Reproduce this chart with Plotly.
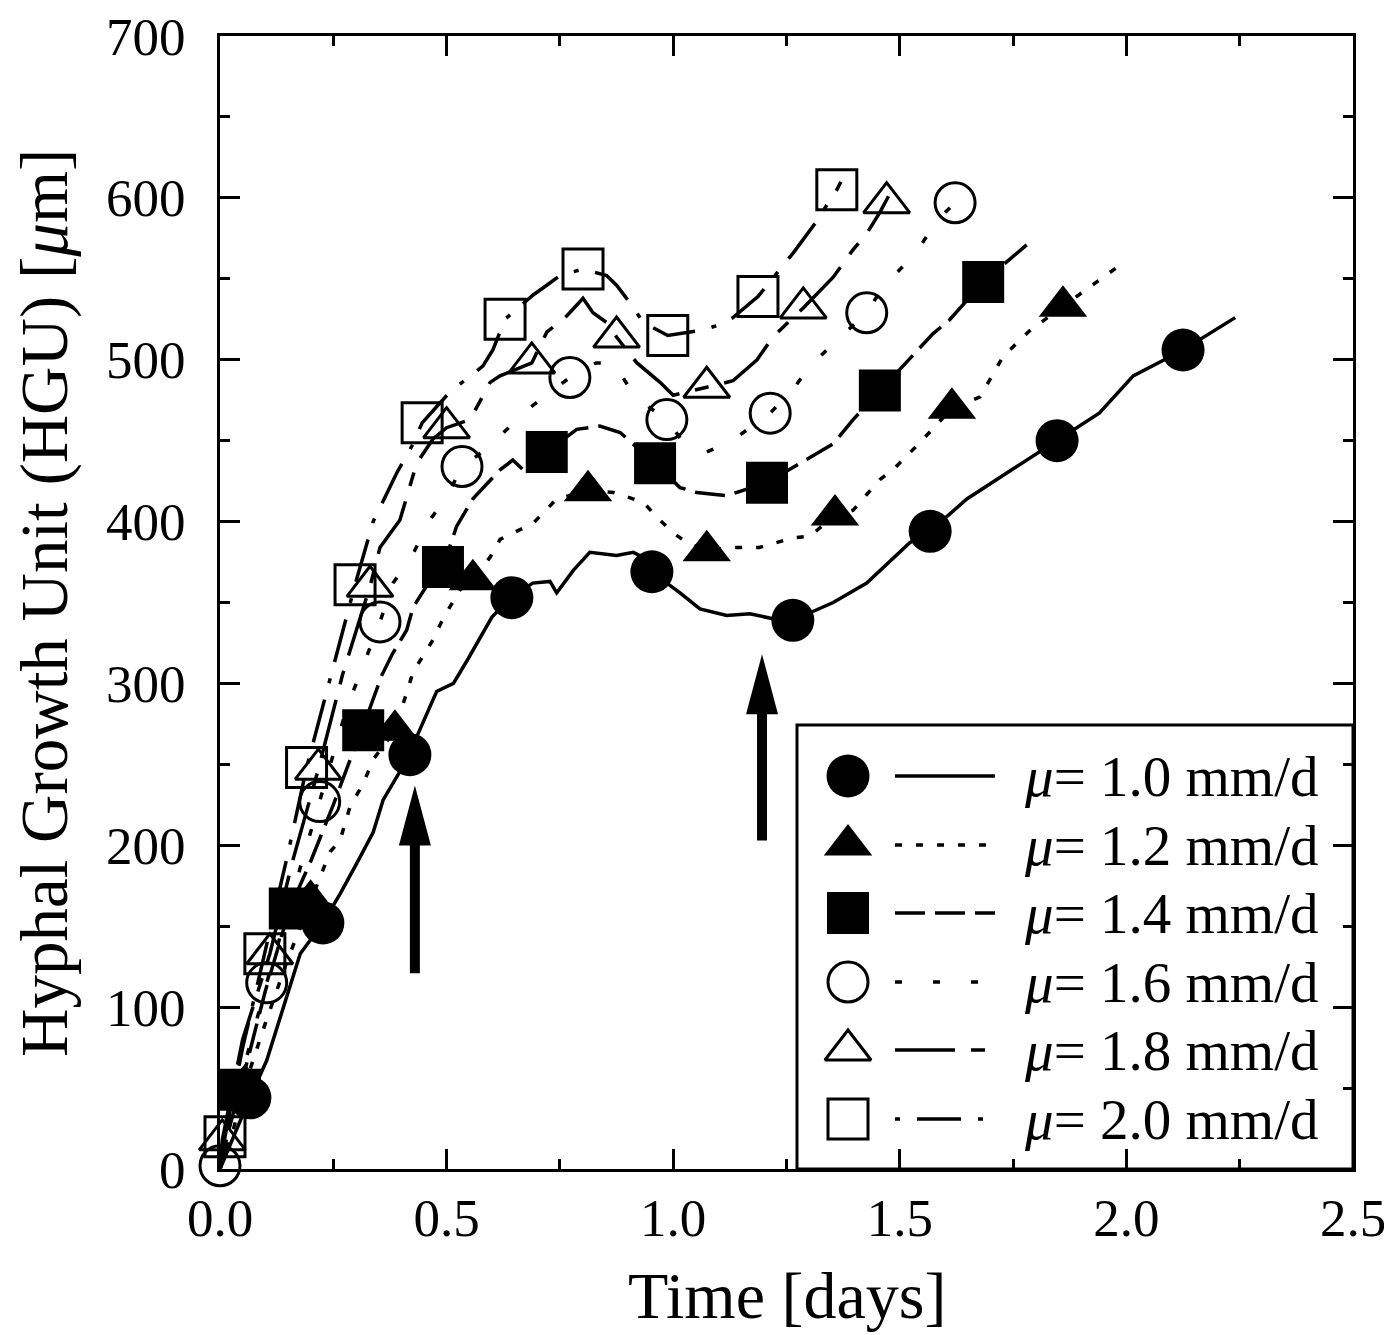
import plotly.graph_objects as go

FONT = "Liberation Serif"

# ---------------- data (time [days], HGU [um]) ----------------
speed_labels = ["1.0", "1.2", "1.4", "1.6", "1.8", "2.0"]

# mu = 1.0 mm/d
t10_line = [0, 0.03, 0.066, 0.103, 0.177, 0.227, 0.265, 0.302, 0.338, 0.36, 0.39, 0.419, 0.434, 0.478,
            0.515, 0.545, 0.60, 0.642, 0.69, 0.728, 0.743, 0.78, 0.816, 0.875, 0.912, 0.955, 0.986, 1.015,
            1.059, 1.118, 1.169, 1.22, 1.264, 1.353, 1.427, 1.522, 1.567, 1.648, 1.758, 1.847, 1.94, 2.015,
            2.125, 2.24]
h10_line = [0, 20, 44, 67, 133, 152, 170, 189, 208, 228, 242, 256, 267, 295, 300, 314, 341, 353, 362, 363,
            356, 370, 381, 379, 381, 375, 362, 356, 346, 342, 343, 340, 339, 350, 362, 387, 394, 414, 434,
            450, 467, 490, 506, 526]
t10_mk = [0.066, 0.227, 0.419, 0.644, 0.953, 1.264, 1.567, 1.847, 2.125]
h10_mk = [44, 152, 256, 353, 369, 339, 394, 450, 506]

# mu = 1.2 mm/d
t12_line = [0, 0.03, 0.055, 0.1, 0.15, 0.2, 0.243, 0.265, 0.287, 0.316, 0.338, 0.386, 0.426, 0.47, 0.492,
            0.53, 0.558, 0.596, 0.618, 0.691, 0.743, 0.812, 0.868, 0.934, 0.963, 1.0, 1.03, 1.074, 1.132,
            1.19, 1.265, 1.302, 1.357, 1.397, 1.456, 1.485, 1.545, 1.615, 1.677, 1.728, 1.787, 1.86, 1.979]
h12_line = [0, 25, 52, 90, 130, 166, 196, 203, 224, 238, 253, 271, 307, 327, 340, 358, 364, 378, 389, 399,
            414, 419, 418, 412, 403, 393, 387, 382, 384, 384, 390, 391, 404, 407, 426, 432, 449, 470, 477,
            502, 518, 533, 557]
t12_mk = [0.055, 0.2, 0.386, 0.558, 0.812, 1.074, 1.357, 1.615, 1.86]
h12_mk = [52, 166, 271, 364, 419, 382, 404, 470, 533]

# mu = 1.4 mm/d
t14_line = [0, 0.02, 0.044, 0.1, 0.154, 0.2, 0.25, 0.29, 0.316, 0.331, 0.357, 0.38, 0.412, 0.426, 0.46,
            0.492, 0.522, 0.558, 0.618, 0.646, 0.669, 0.721, 0.787, 0.838, 0.883, 0.96, 1.015, 1.052, 1.118,
            1.207, 1.28, 1.353, 1.397, 1.456, 1.538, 1.573, 1.611, 1.684, 1.78]
h14_line = [0, 25, 49, 110, 161, 190, 225, 255, 271, 285, 305, 318, 333, 347, 362, 372, 397, 414, 432, 438,
            432, 443, 457, 459, 455, 436, 421, 418, 416, 424, 436, 448, 463, 481, 506, 516, 525, 548, 571]
t14_mk = [0.044, 0.154, 0.316, 0.492, 0.721, 0.96, 1.207, 1.456, 1.684]
h14_mk = [49, 161, 271, 372, 443, 436, 424, 481, 548]

# mu = 1.6 mm/d
t16_line = [0, 0.05, 0.103, 0.16, 0.22, 0.28, 0.353, 0.382, 0.426, 0.463, 0.5, 0.534, 0.589, 0.677, 0.772,
            0.83, 0.868, 0.905, 0.95, 0.986, 1.022, 1.074, 1.125, 1.214, 1.265, 1.302, 1.346, 1.427, 1.463,
            1.508, 1.545, 1.582, 1.622]
h16_line = [2, 60, 115, 170, 227, 285, 338, 362, 380, 401, 415, 434, 445, 469, 489, 498, 498, 482, 470, 463,
            449, 443, 449, 467, 482, 496, 508, 529, 545, 558, 570, 586, 597]
t16_mk = [0.0, 0.103, 0.22, 0.353, 0.534, 0.772, 0.986, 1.214, 1.427, 1.622]
h16_mk = [2, 115, 227, 338, 434, 489, 463, 467, 529, 597]

# mu = 1.8 mm/d
t18_line = [0, 0.005, 0.05, 0.11, 0.16, 0.217, 0.27, 0.331, 0.353, 0.397, 0.434, 0.47, 0.5, 0.552, 0.596,
            0.618, 0.688, 0.721, 0.765, 0.801, 0.823, 0.853, 0.875, 0.92, 0.971, 1.0, 1.074, 1.132, 1.185,
            1.22, 1.287, 1.353, 1.397, 1.427, 1.456, 1.475]
h18_line = [0, 18, 80, 133, 190, 247, 305, 360, 384, 401, 436, 451, 458, 463, 486, 490, 498, 517, 527, 538,
            529, 523, 514, 498, 486, 478, 483, 487, 500, 514, 532, 551, 568, 578, 591, 601]
t18_mk = [0.005, 0.11, 0.217, 0.331, 0.5, 0.688, 0.875, 1.074, 1.287, 1.471]
h18_mk = [18, 133, 247, 360, 458, 498, 514, 483, 532, 597]

# mu = 2.0 mm/d
t20_line = [0, 0.011, 0.05, 0.099, 0.15, 0.191, 0.25, 0.298, 0.338, 0.39, 0.426, 0.446, 0.507, 0.545, 0.58,
            0.602, 0.629, 0.662, 0.691, 0.721, 0.75, 0.801, 0.853, 0.875, 0.905, 0.934, 0.988, 1.059, 1.096,
            1.132, 1.187, 1.236, 1.265, 1.31, 1.361, 1.37]
h20_line = [0, 20, 75, 133, 195, 248, 310, 361, 400, 430, 448, 461, 480, 488, 496, 506, 525, 533, 540, 546,
            552, 556, 552, 546, 535, 523, 515, 518, 521, 526, 539, 556, 566, 583, 605, 610]
t20_mk = [0.011, 0.099, 0.191, 0.298, 0.446, 0.629, 0.801, 0.988, 1.187, 1.361]
h20_mk = [20, 133, 248, 361, 461, 525, 556, 515, 539, 605]

# arrows: x, tail y, tip y (data units)
arrow_x = [0.430, 1.196]
arrow_tail = [121, 203]
arrow_tip = [237, 318]

x_ticks = [0.0, 0.5, 1.0, 1.5, 2.0, 2.5]
y_ticks = [0, 100, 200, 300, 400, 500, 600, 700]

# ---------------- styles ----------------
lines_t = [t10_line, t12_line, t14_line, t16_line, t18_line, t20_line]
lines_h = [h10_line, h12_line, h14_line, h16_line, h18_line, h20_line]
mks_t = [t10_mk, t12_mk, t14_mk, t16_mk, t18_mk, t20_mk]
mks_h = [h10_mk, h12_mk, h14_mk, h16_mk, h18_mk, h20_mk]
symbols = ["circle", "triangle-up", "square", "circle-open", "triangle-up-open", "square-open"]
msizes = [43, 42, 42, 40, 40, 40]
dashes = ["solid", "7px,14px", "30px,10px", "7px,31px", "60px,16px,14px,16px", "5px,17px,44px,17px"]
LW = 3.5

fig = go.Figure()

for i in range(6):
    fig.add_trace(go.Scatter(
        x=lines_t[i], y=lines_h[i], mode="lines",
        line=dict(color="black", width=LW, dash=dashes[i]),
        showlegend=False, cliponaxis=False, hoverinfo="skip"))

for i in range(6):
    opn = symbols[i].endswith("open")
    fig.add_trace(go.Scatter(
        x=mks_t[i], y=mks_h[i], mode="markers",
        marker=dict(symbol=symbols[i], size=msizes[i], color="black",
                    line=dict(color="black", width=3 if opn else 0)),
        showlegend=False, cliponaxis=False))

# ---------------- arrows (shapes) ----------------
PX_X = 1133 / 2.5   # pixels per day
PX_Y = 1133 / 700   # pixels per um
head_len = 60 / PX_Y
head_half = 16 / PX_X
shapes = []
for ax_, yt, yp in zip(arrow_x, arrow_tail, arrow_tip):
    shapes.append(dict(type="line", xref="x", yref="y", x0=ax_, x1=ax_, y0=yt, y1=yp - head_len + 2,
                       line=dict(color="black", width=10)))
    shapes.append(dict(type="path", xref="x", yref="y",
                       path=f"M {ax_ - head_half},{yp - head_len} L {ax_ + head_half},{yp - head_len} L {ax_},{yp} Z",
                       fillcolor="black", line=dict(color="black", width=0)))

# ---------------- manual legend on pixel-coordinate overlay axes ----------------
# (overlay axis units are pixels of the final page, plot area spans 220..1353 x 36..1169)
row_y = [776, 845, 913, 982, 1050, 1119]
leg_mk_x = 848
leg_line_x = [895, 995]
leg_text_x = 1022

shapes.append(dict(type="rect", xref="x2", yref="y2", x0=797, x1=1353, y0=725, y1=1169,
                   line=dict(color="black", width=3), fillcolor="white", layer="below"))

for i in range(6):
    opn = symbols[i].endswith("open")
    fig.add_trace(go.Scatter(
        x=[leg_mk_x], y=[row_y[i]], mode="markers", xaxis="x2", yaxis="y2",
        marker=dict(symbol=symbols[i], size=msizes[i], color="black",
                    line=dict(color="black", width=3 if opn else 0)),
        showlegend=False, cliponaxis=False, hoverinfo="skip"))
    fig.add_trace(go.Scatter(
        x=leg_line_x, y=[row_y[i], row_y[i]], mode="lines", xaxis="x2", yaxis="y2",
        line=dict(color="black", width=LW, dash=dashes[i]),
        showlegend=False, cliponaxis=False, hoverinfo="skip"))

annotations = []
for i in range(6):
    annotations.append(dict(x=leg_text_x, y=row_y[i], xref="x2", yref="y2",
                            text=f"<i>\u03bc</i>= {speed_labels[i]} mm/d", showarrow=False,
                            xanchor="left", yanchor="middle",
                            font=dict(family=FONT, size=57, color="black")))

annotations.append(dict(x=-0.155, y=0.5, xref="paper", yref="paper",
                        text="Hyphal Growth Unit (HGU) [<i>\u03bc</i>m]", textangle=-90,
                        showarrow=False, xanchor="center", yanchor="middle",
                        font=dict(family=FONT, size=67, color="black")))
annotations.append(dict(x=0.5, y=-0.112, xref="paper", yref="paper",
                        text="Time [days]", showarrow=False, xanchor="center", yanchor="middle",
                        font=dict(family=FONT, size=66, color="black")))

axis_common = dict(showgrid=False, zeroline=False, showline=True, linewidth=3, linecolor="black",
                   mirror="allticks", ticks="inside", ticklen=20, tickwidth=3, tickcolor="black",
                   automargin=False, ticklabeloverflow="allow",
                   tickfont=dict(family=FONT, size=53, color="black"))

# page body has an 8px default margin: figure is 8px smaller and margins shifted accordingly
fig.update_layout(
    width=1384, height=1327,
    margin=dict(l=212, r=39, t=28, b=166, autoexpand=False),
    paper_bgcolor="white", plot_bgcolor="white",
    showlegend=False,
    xaxis=dict(range=[0, 2.5], tickvals=x_ticks, ticktext=[f"{v:.1f}" for v in x_ticks],
               minor=dict(dtick=0.25, ticklen=10, tickwidth=3, ticks="inside", tickcolor="black"),
               ticklabelstandoff=0, **axis_common),
    yaxis=dict(range=[0, 700], tickvals=y_ticks, ticktext=[str(v) for v in y_ticks],
               minor=dict(dtick=50, ticklen=10, tickwidth=3, ticks="inside", tickcolor="black"),
               ticklabelstandoff=21, **axis_common),
    xaxis2=dict(range=[220, 1353], overlaying="x", anchor="y2", visible=False, fixedrange=True),
    yaxis2=dict(range=[1169, 36], overlaying="y", anchor="x2", visible=False, fixedrange=True),
    shapes=shapes,
    annotations=annotations,
)

fig.write_html("out.html")
